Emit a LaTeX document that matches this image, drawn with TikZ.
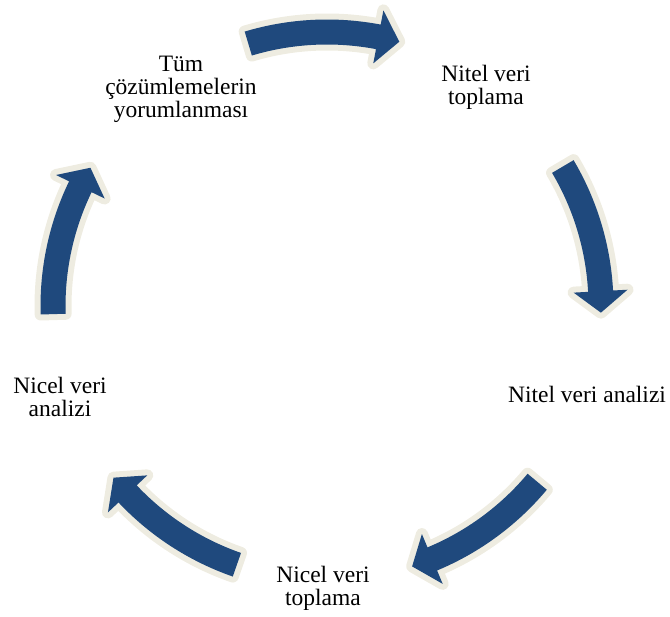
\documentclass[tikz,border=0pt]{standalone}
\usepackage{fontspec}
\setmainfont{Liberation Serif}
\definecolor{arrowblue}{HTML}{1F497D}
\definecolor{arrowcream}{HTML}{EEECE1}
\tikzset{
  cyctext/.style={font=\fontsize{23.5}{23}\selectfont, align=center, inner sep=0pt},
  arrowbody/.style={fill=arrowblue, preaction={draw=arrowcream, line width=12pt, line join=round}},
  cycarrow/.pic={
    \path[arrowbody] (16:286.5) arc[start angle=16, end angle=-11.5, radius=286.5]
      -- (-11.5:301) -- (-16:274) -- (-11.5:247) -- (-11.5:261.5)
      arc[start angle=-11.5, end angle=16, radius=261.5] -- cycle;
  }
}
\begin{document}
\begin{tikzpicture}[x=1pt,y=1pt]
\useasboundingbox (0,0) rectangle (670,617);
\coordinate (c) at (327,311);
\pic[rotate=90.7] at (c) {cycarrow};
\pic[rotate=14.6] at (c) {cycarrow};
\pic[rotate=-55.9] at (c) {cycarrow};
\pic[rotate=-125.2] at (c) {cycarrow};
\pic[rotate=165.7] at (c) {cycarrow};
\node[cyctext] (tum) at (181,528) {Tüm\\çözümlemelerin\\yorumlanması};
\node[cyctext] (nvt) at (486,530) {Nitel veri\\toplama};
\node[cyctext] (nva) at (587,223) {Nitel veri analizi};
\node[cyctext] (nct) at (323,29) {Nicel veri\\toplama};
\node[cyctext] (nca) at (60,220) {Nicel veri\\analizi};
\end{tikzpicture}
\end{document}
